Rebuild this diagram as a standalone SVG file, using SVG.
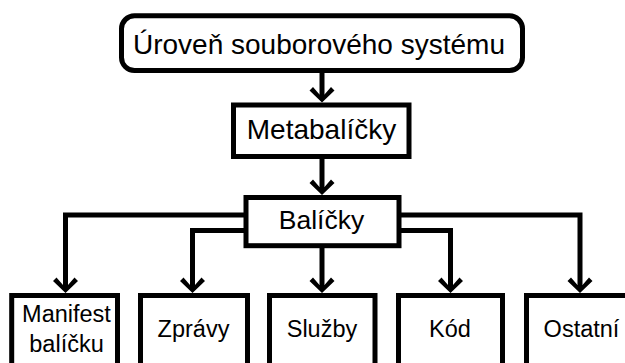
<svg xmlns="http://www.w3.org/2000/svg" width="625" height="363" viewBox="0 0 625 363">
<style>
.box{fill:#fff;stroke:#000;stroke-width:5}
.lbl{font-family:"Liberation Sans",Arial,sans-serif;fill:#000;text-anchor:middle}
.big{font-size:28px}
.sm{font-size:23.5px}
.conn{fill:none;stroke:#000;stroke-width:5;stroke-linejoin:miter}
</style>
<defs>
<marker id="ah" markerUnits="userSpaceOnUse" viewBox="-3 -14 19 28" markerWidth="19" markerHeight="28" refX="8" refY="0" orient="auto">
<polygon points="14,0 2,-12.5 -1.5,-9 6,-2.5 6,2.5 -1.5,9 2,12.5" fill="#000"/>
</marker>
</defs>
<rect width="625" height="363" fill="#fff"/>
<g id="connectors">
<path class="conn" d="M322 71 V96.5" marker-end="url(#ah)"/>
<path class="conn" d="M322 157 V189" marker-end="url(#ah)"/>
<path class="conn" d="M246 215 H65.5 V287" marker-end="url(#ah)"/>
<path class="conn" d="M246 230.5 H192.5 V287" marker-end="url(#ah)"/>
<path class="conn" d="M322 246 V287" marker-end="url(#ah)"/>
<path class="conn" d="M399 230.5 H450.5 V287" marker-end="url(#ah)"/>
<path class="conn" d="M399 215 H580 V287" marker-end="url(#ah)"/>
</g>
<g id="n-uroven">
<rect class="box" x="121.5" y="15.8" width="401" height="54.7" rx="13"/>
<text class="lbl big" x="319" y="54">Úroveň souborového systému</text>
</g>
<g id="n-metabalicky">
<rect class="box" x="233.5" y="105" width="175.5" height="51.5"/>
<text class="lbl big" x="321.5" y="139">Metabalíčky</text>
</g>
<g id="n-balicky">
<rect class="box" x="246" y="197.5" width="153" height="48.2"/>
<text class="lbl" style="font-size:26.5px" x="321.5" y="229">Balíčky</text>
</g>
<g id="n-manifest">
<rect class="box" x="11.7" y="295.5" width="105.8" height="90"/>
<text class="lbl sm" x="66.5" y="322">Manifest</text>
<text class="lbl sm" x="66.5" y="352">balíčku</text>
</g>
<g id="n-zpravy">
<rect class="box" x="140.5" y="295.5" width="107" height="90"/>
<text class="lbl sm" x="193.5" y="337">Zprávy</text>
</g>
<g id="n-sluzby">
<rect class="box" x="269.5" y="295.5" width="105.5" height="90"/>
<text class="lbl sm" x="322" y="337">Služby</text>
</g>
<g id="n-kod">
<rect class="box" x="398.5" y="295.5" width="104" height="90"/>
<text class="lbl sm" x="450" y="337">Kód</text>
</g>
<g id="n-ostatni">
<rect class="box" x="526.5" y="295.5" width="106" height="90"/>
<text class="lbl sm" x="581.5" y="337">Ostatní</text>
</g>
</svg>
